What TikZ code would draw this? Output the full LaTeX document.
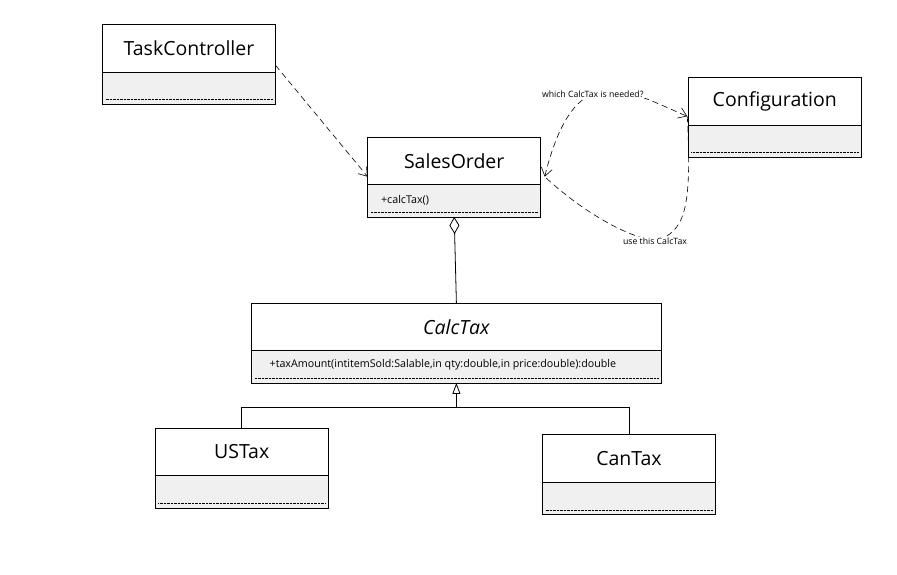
\documentclass[tikz,border=0pt]{standalone}
\usepackage{fontspec}
\setmainfont{Open Sans}
\usetikzlibrary{positioning,calc,arrows.meta}
\definecolor{memgray}{HTML}{F0F0F0}

\begin{document}
\begin{tikzpicture}[x=1pt,y=-1pt,line width=0.8pt,
    cls/.style={draw,outer sep=0pt,inner sep=0pt,minimum width=173pt,minimum height=47.5pt,font=\fontsize{19.5}{22}\selectfont},
    mem/.style={draw,outer sep=0pt,inner sep=0pt,fill=memgray,minimum width=173pt,minimum height=32.5pt,below=0pt of #1},
    op/.style={anchor=west,inner sep=0pt,font=\fontsize{10.7}{12}\selectfont},
    lbl/.style={fill=white,inner sep=1pt,font=\fontsize{8.7}{10}\selectfont},
    sep/.style={line width=0.4pt,densely dotted},
    dep/.style={dash pattern=on 6pt off 4pt,line width=0.6pt},
    >={Straight Barb[length=8pt,width=11pt]}]
\path[use as bounding box,fill=white] (0,0) rectangle (897,574);

% classes
\node[cls] (tc) at (189,48.3) {TaskController};
\node[mem=tc] (tc-m) {};
\node[cls] (so) at (454.2,160.7) {SalesOrder};
\node[mem=so] (so-m) {};
\node[cls] (cf) at (774.8,101.3) {Configuration};
\node[mem=cf] (cf-m) {};
\node[cls,minimum width=409.3pt] (ct) at (456.4,326.7) {\itshape CalcTax};
\node[mem=ct,minimum width=409.3pt] (ct-m) {};
\node[cls] (us) at (241.7,451.7) {USTax};
\node[mem=us] (us-m) {};
\node[cls] (cn) at (629,458.5) {CanTax};
\node[mem=cn] (cn-m) {};

\node[op] (so-op) at ($(so-m.west)+(13,0)$) {+calcTax()};
\node[op] (ct-op) at ($(ct-m.west)+(17.5,-1.5)$) {+taxAmount(intitemSold:Salable,in qty:double,in price:double):double};

\foreach \c in {tc,so,cf,ct,us,cn}
    \draw[sep] ($(\c-m.south west)+(3,-5)$) -- ($(\c-m.south east)+(-3,-5)$);

% dependencies
\coordinate (so-r) at ($(so.east)+(4,16)$);
\coordinate (cf-l) at ($(cf.west)+(-1,15)$);
\draw[dep,->] ($(tc.east)+(0,17)$) -- ($(so.west)+(0,16)$);
\draw[dep,<->] (so-r) .. controls (575,55) and (625,90) .. node[lbl,pos=0.42] (ask) {which CalcTax is needed?} (cf-l);
\draw[dep] (cf-l) .. controls (692,210) and (685,232) .. (655,241) node[lbl] (use) {use this CalcTax}
    .. controls (620,235) and (575,205) .. (so-r);

% aggregation and generalization
\draw[{Diamond[open,length=17pt,width=10pt]}-] (so-m.south) -- (ct.north);
\coordinate (jn) at ($(ct-m.south)+(0,24)$);
\draw (us.north) |- (jn) -| (cn.north);
\draw[-{Triangle[open,length=11pt,width=8pt]}] (jn) -- (ct-m.south);
\end{tikzpicture}
\end{document}
